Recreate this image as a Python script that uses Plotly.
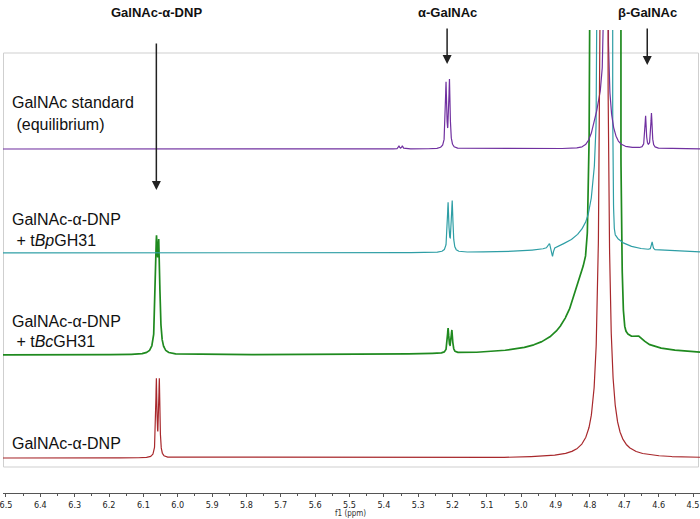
import numpy as np
import plotly.graph_objects as go

# ---------------- data ----------------
x_range = [6.5087, 4.4797]          # ppm, reversed axis
ppm = np.arange(4.476, 6.514, 0.0002)

# GalNAc standard (equilibrium)
purple_offset = 344
purple_l_ppm = [5.219, 5.209, 5.356, 5.346, 4.7536, 4.750, 4.638, 4.621]
purple_l_h = [64, 67, 3, 3, 3000, 5, 32, 35]
purple_l_w = [0.0022, 0.0022, 0.002, 0.002, 0.0012, 0.03, 0.0022, 0.0022]
purple_g_ppm = [4.765]
purple_g_h = [40]
purple_g_s = [0.02]

# GalNAc-a-DNP + tBpGH31
teal_offset = 240
teal_l_ppm = [5.213, 5.201, 4.909, 4.918, 4.775, 4.800, 4.619]
teal_l_h = [48, 50, -10, 5, 120, 15, 8]
teal_l_w = [0.0025, 0.0025, 0.003, 0.004, 0.015, 0.07, 0.0022]
teal_g_ppm = [4.7565]
teal_g_h = [1e5]
teal_g_s = [0.0062]

# GalNAc-a-DNP + tBcGH31
green_offset = 138
green_l_ppm = [6.062, 6.055, 5.213, 5.202, 4.800, 4.655]
green_l_h = [100, 95, 24, 22, 100, 6]
green_l_w = [0.0035, 0.0035, 0.0025, 0.0025, 0.055, 0.015]
green_g_ppm = [4.7555]
green_g_h = [1e5]
green_g_s = [0.0128]

# GalNAc-a-DNP
red_offset = 35
red_l_ppm = [6.0623, 6.0536, 4.7594]
red_l_h = [76, 76, 1e4]
red_l_w = [0.002, 0.002, 0.0024]
red_g_ppm = []
red_g_h = []
red_g_s = []

tick_vals = [6.5, 6.4, 6.3, 6.2, 6.1, 6.0, 5.9, 5.8, 5.7, 5.6, 5.5,
             5.4, 5.3, 5.2, 5.1, 5.0, 4.9, 4.8, 4.7, 4.6, 4.5]

side_labels = [
    ("GalNAc standard", 102),
    (" (equilibrium)", 124),
    ("GalNAc-α-DNP", 219),
    (" + t<i>Bp</i>GH31", 240),
    ("GalNAc-α-DNP", 321),
    (" + t<i>Bc</i>GH31", 341),
    ("GalNAc-α-DNP", 443),
]
top_labels = [("GalNAc-α-DNP", 6.0623), ("α-GalNAc", 5.2159), ("β-GalNAc", 4.6333)]
arrow_tips = [(6.0623, 190, 148), (5.2159, 64, 37), (4.6333, 65, 38)]  # ppm, tip px-y, length

# ---------------- build spectra ----------------
def spectrum(offset, lp, lh, lw, gp, gh, gs):
    y = np.full_like(ppm, float(offset))
    for c, h, w in zip(lp, lh, lw):
        y += h / (1.0 + ((ppm - c) / w) ** 2)
    for c, h, s in zip(gp, gh, gs):
        y += h * np.exp(-0.5 * ((ppm - c) / s) ** 2)
    return y

W, H = 700, 519
T, B = 30, 26
PH = H - T - B  # plot height in px, y data unit == 1 px

def py(pix):
    return (H - B) - pix

fig = go.Figure()
specs = [
    ("green", "#1f8a1f", 1.7, green_offset, green_l_ppm, green_l_h, green_l_w, green_g_ppm, green_g_h, green_g_s),
    ("teal", "#2e9ea5", 1.2, teal_offset, teal_l_ppm, teal_l_h, teal_l_w, teal_g_ppm, teal_g_h, teal_g_s),
    ("purple", "#7030a0", 1.2, purple_offset, purple_l_ppm, purple_l_h, purple_l_w, purple_g_ppm, purple_g_h, purple_g_s),
    ("red", "#a8282c", 1.2, red_offset, red_l_ppm, red_l_h, red_l_w, red_g_ppm, red_g_h, red_g_s),
]
for name, col, lw, off, lp, lh, lwid, gp, gh, gs in specs:
    fig.add_trace(go.Scatter(x=ppm, y=spectrum(off, lp, lh, lwid, gp, gh, gs),
                             mode="lines", line=dict(color=col, width=lw),
                             name=name, hoverinfo="skip", showlegend=False))

# light grey frame around spectra
fig.add_shape(type="rect", xref="paper", yref="y",
              x0=0.5 / W, x1=698.5 / W, y0=py(467), y1=py(53),
              line=dict(color="#cfcfcf", width=1), layer="below")

annotations = []
for txt, pix in side_labels:
    annotations.append(dict(text=txt, xref="paper", yref="y", x=7 / W, y=py(pix),
                            xanchor="left", yanchor="middle", showarrow=False,
                            font=dict(family="Liberation Sans, Arial", size=16, color="#111")))
for txt, xp in top_labels:
    annotations.append(dict(text="<b>" + txt + "</b>", xref="x", yref="paper", x=xp,
                            y=1 + (T - 12.5) / PH, xanchor="center", yanchor="middle",
                            showarrow=False,
                            font=dict(family="Liberation Sans, Arial", size=13, color="#111")))
for xp, tip, length in arrow_tips:
    annotations.append(dict(text="", xref="x", yref="y", x=xp, y=py(tip),
                            ax=0, ay=-length, showarrow=True, arrowhead=2, arrowsize=1.2,
                            arrowwidth=1.5, arrowcolor="#222", standoff=0))
annotations.append(dict(text="f1 (ppm)", xref="paper", yref="paper", x=349 / W,
                        y=-(513 - (H - B)) / PH, xanchor="center", yanchor="middle",
                        showarrow=False,
                        font=dict(family="DejaVu Sans Condensed, Liberation Sans", size=8, color="#333")))

fig.update_layout(
    width=W, height=H, autosize=False,
    margin=dict(l=0, r=0, t=T, b=B, pad=0),
    paper_bgcolor="white", plot_bgcolor="white",
    annotations=annotations,
    xaxis=dict(range=x_range, showgrid=False, zeroline=False,
               showline=True, linecolor="#555", linewidth=1,
               ticks="outside", ticklen=3, tickcolor="#555", tickwidth=1,
               tickvals=tick_vals, ticktext=[f"{v:.1f}" for v in tick_vals],
               ticklabeloverflow="allow",
               tickfont=dict(family="DejaVu Sans Condensed, Liberation Sans", size=9, color="#222"),
               minor=dict(ticks="outside", ticklen=2, tickcolor="#555", dtick=0.05, tick0=4.45)),
    yaxis=dict(range=[0, PH], visible=False, showgrid=False, zeroline=False),
)

fig.write_html("out.html", config={"displayModeBar": False},
               post_script="document.body.style.margin='0px';document.body.style.overflow='hidden';")
